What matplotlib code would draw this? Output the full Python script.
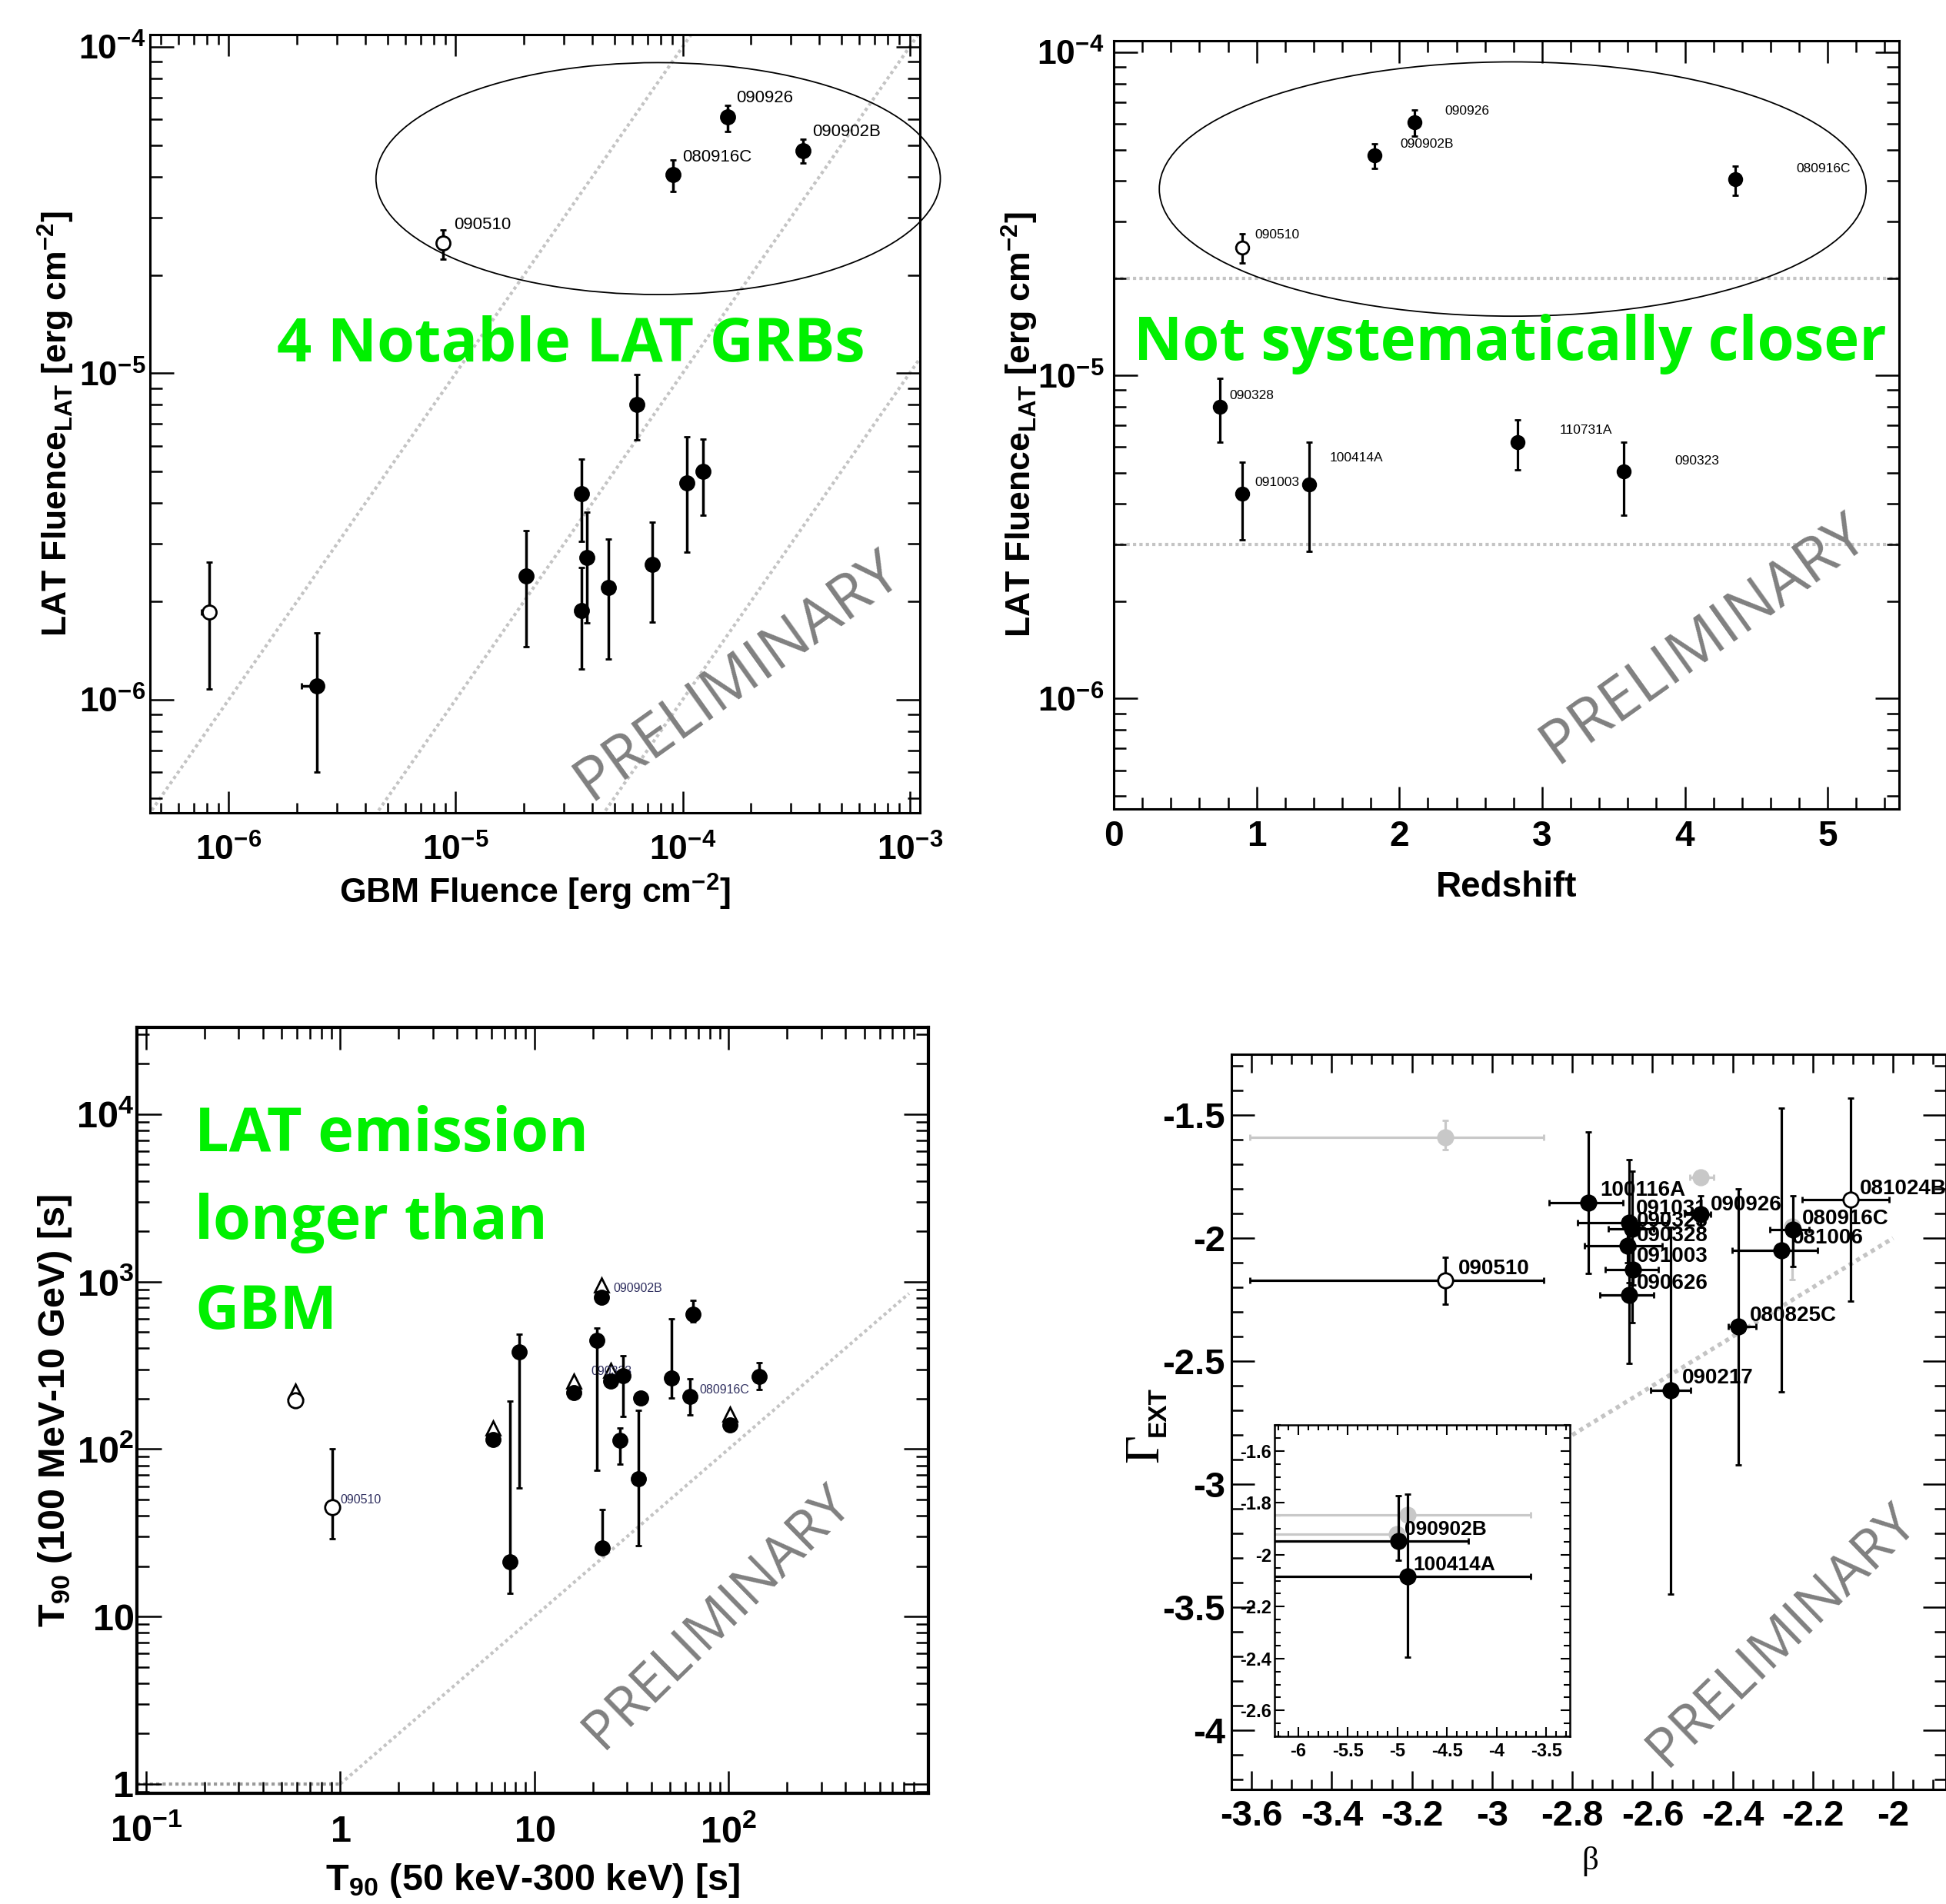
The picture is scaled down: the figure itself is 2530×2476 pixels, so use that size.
"""Four-panel LAT/GBM GRB summary (fluence, redshift, T90, beta vs Gamma_EXT)."""
import matplotlib

matplotlib.use("Agg")
import matplotlib.pyplot as plt
import numpy as np
from matplotlib.patches import Ellipse
from matplotlib.ticker import LogLocator, MultipleLocator, NullFormatter

W, H, DPI = 2530, 2476, 100

plt.rcParams["font.family"] = ["Liberation Sans", "DejaVu Sans"]
plt.rcParams["mathtext.fontset"] = "custom"
plt.rcParams["mathtext.rm"] = "Liberation Serif"
plt.rcParams["mathtext.bf"] = "Liberation Sans:bold"
plt.rcParams["axes.unicode_minus"] = False

GREEN = "#00f000"
GREY_TXT = "#808080"
GREY_LINE = "#c4c4c4"
GREY_PT = "#c8c8c8"

# ---- panel 1: LAT fluence vs GBM fluence
FL_NAME = ["090510", "", "080916C", "090926", "090902B", "", "", "", "", "", "", "", "", "", ""]
FL_GBM = [8.8e-6, 8.2e-7, 9.1e-5, 1.58e-4, 3.4e-4, 2.45e-6, 2.05e-5, 3.57e-5, 3.77e-5,
          3.57e-5, 4.72e-5, 6.3e-5, 7.33e-5, 1.04e-4, 1.23e-4]
FL_GBM_LO = [8.8e-6, 7.6e-7, 9.1e-5, 1.58e-4, 3.4e-4, 2.1e-6, 2.05e-5, 3.57e-5, 3.77e-5,
             3.57e-5, 4.72e-5, 6.3e-5, 7.33e-5, 1.04e-4, 1.23e-4]
FL_LAT = [2.5e-5, 1.85e-6, 4.06e-5, 6.1e-5, 4.8e-5, 1.1e-6, 2.39e-6, 4.28e-6, 2.72e-6,
          1.87e-6, 2.2e-6, 8.0e-6, 2.6e-6, 4.6e-6, 5.0e-6]
FL_LAT_HI = [2.75e-5, 2.64e-6, 4.5e-5, 6.6e-5, 5.2e-5, 1.6e-6, 3.3e-6, 5.46e-6, 3.75e-6,
             2.54e-6, 3.1e-6, 9.9e-6, 3.5e-6, 6.4e-6, 6.3e-6]
FL_LAT_LO = [2.24e-5, 1.08e-6, 3.6e-5, 5.5e-5, 4.4e-5, 6.0e-7, 1.45e-6, 3.06e-6, 1.72e-6,
             1.24e-6, 1.33e-6, 6.25e-6, 1.73e-6, 2.83e-6, 3.68e-6]
FL_OPEN = [True, True] + [False] * 13
FL_LBL_X = [9.8e-6, None, 1.0e-4, 1.72e-4, 3.73e-4]
FL_LBL_Y = [2.85e-5, None, 4.6e-5, 6.97e-5, 5.5e-5]
FL_RATIOS = [1.0, 0.1, 0.01]

# ---- panel 2: LAT fluence vs redshift
RS_NAME = ["090510", "090902B", "090926", "080916C", "090328", "091003", "100414A",
           "110731A", "090323"]
RS_Z = [0.899, 1.824, 2.107, 4.35, 0.742, 0.899, 1.37, 2.827, 3.569]
RS_LAT = [2.49e-5, 4.79e-5, 6.09e-5, 4.05e-5, 8.0e-6, 4.3e-6, 4.6e-6, 6.2e-6, 5.05e-6]
RS_HI = [2.74e-5, 5.21e-5, 6.62e-5, 4.44e-5, 9.8e-6, 5.4e-6, 6.2e-6, 7.3e-6, 6.2e-6]
RS_LO = [2.23e-5, 4.37e-5, 5.5e-5, 3.6e-5, 6.2e-6, 3.1e-6, 2.85e-6, 5.1e-6, 3.7e-6]
RS_OPEN = [True] + [False] * 8
RS_LBL_Z = [0.99, 2.007, 2.317, 4.78, 0.81, 0.986, 1.51, 3.12, 3.927]
RS_LBL_F = [2.72e-5, 5.21e-5, 6.59e-5, 4.36e-5, 8.65e-6, 4.67e-6, 5.56e-6, 6.76e-6, 5.44e-6]
RS_BANDS = [2e-5, 3e-6]

# ---- panel 3: T90 LAT vs T90 GBM
T_GBM = [6.1, 7.48, 8.34, 15.9, 21.0, 22.1, 22.3, 24.8, 28.5, 27.5, 35.2, 34.2, 50.7,
         65.8, 63.4, 101.9, 143.3]
T_LAT = [113.8, 21.2, 381, 217, 445, 806, 25.8, 254.7, 273.6, 113, 202.4, 66.5, 265,
         637, 205.6, 138.7, 271]
T_LO = [113.8, 13.7, 58.7, 217, 75, 806, 25.8, 254.7, 157, 81.5, 202.4, 26.6, 202,
        575, 160, 138.7, 226]
T_HI = [113.8, 194, 488, 217, 530, 806, 43.5, 254.7, 361, 133, 202.4, 170, 597,
        775, 263, 138.7, 329]
T_OPEN_X = [0.586, 0.906]
T_OPEN_Y = [194.5, 45.2]
T_OPEN_LO = [194.5, 29.2]
T_OPEN_HI = [194.5, 100]
T_TRI_X = [0.586, 6.1, 15.9, 22.1, 24.8, 101.9]
T_TRI_Y = [223, 133, 256, 960, 294, 162]
T_LBL = ["090510", "090902B", "090323", "080916C"]
T_LBL_X = [1.0, 25.6, 19.5, 70.8]
T_LBL_Y = [49.7, 908, 290, 226]

# ---- panel 4: Gamma_EXT vs beta
B_NAME = ["", "090510", "", "", "100116A", "091031", "090323", "090328", "091003",
          "090626", "090926", "090217", "080825C", "081006", "080916C", "081024B"]
B_KIND = ["grey", "open", "grey", "grey", "fill", "fill", "fill", "fill", "fill",
          "fill", "fill", "fill", "fill", "fill", "fill", "open"]
B_BETA = [-3.117, -3.117, -2.480, -2.251, -2.760, -2.658, -2.651, -2.662, -2.648,
          -2.658, -2.480, -2.554, -2.386, -2.279, -2.249, -2.106]
B_BLO = [-3.604, -3.604, -2.507, -2.251, -2.857, -2.787, -2.711, -2.770, -2.718,
         -2.731, -2.521, -2.604, -2.411, -2.401, -2.307, -2.227]
B_BHI = [-2.871, -2.871, -2.448, -2.251, -2.673, -2.563, -2.597, -2.576, -2.586,
         -2.597, -2.455, -2.505, -2.341, -2.189, -2.210, -2.009]
B_GAM = [-1.589, -2.173, -1.753, -1.952, -1.856, -1.938, -1.962, -2.032, -2.128,
         -2.231, -1.903, -2.618, -2.360, -2.049, -1.966, -1.845]
B_GLO = [-1.641, -2.267, -1.770, -2.170, -2.145, -2.203, -2.344, -2.100, -2.190,
         -2.508, -1.957, -3.446, -2.923, -2.625, -2.114, -2.257]
B_GHI = [-1.523, -2.079, -1.736, -1.952, -1.570, -1.680, -1.727, -1.970, -2.040,
         -2.180, -1.828, -1.957, -1.800, -1.472, -1.828, -1.430]
B_LBL_X = [None, -3.085, None, None, -2.731, -2.642, -2.640, -2.640, -2.640, -2.640,
           -2.455, -2.527, -2.358, -2.251, -2.227, -2.084]
B_LBL_Y = [None, -2.124, None, None, -1.805, -1.880, -1.930, -1.990, -2.075, -2.185,
           -1.866, -2.567, -2.316, -2.000, -1.922, -1.800]

IN_NAME = ["", "", "090902B", "100414A"]
IN_KIND = ["grey", "grey", "fill", "fill"]
IN_BETA = [-4.899, -5.005, -4.994, -4.899]
IN_BLO = [-6.4, -6.4, -6.4, -6.4]
IN_BHI = [-3.654, -5.005, -4.285, -3.654]
IN_GAM = [-1.846, -1.921, -1.946, -2.084]
IN_GLO = [-1.846, -1.921, -2.021, -2.396]
IN_GHI = [-1.846, -1.921, -1.772, -1.768]
IN_LBL_X = [None, None, -4.927, -4.84]
IN_LBL_Y = [None, None, -1.902, -2.04]


def px_axes(fig, l, t, r, b):
    return fig.add_axes([l / W, 1 - b / H, (r - l) / W, (b - t) / H])


def root_style(ax, xmaj, xmin, ymaj, ymin, lw=2.2):
    for s in ax.spines.values():
        s.set_linewidth(lw)
    ax.tick_params(which="both", direction="in", top=True, right=True, width=1.8)
    ax.tick_params(axis="x", which="major", length=xmaj)
    ax.tick_params(axis="x", which="minor", length=xmin)
    ax.tick_params(axis="y", which="major", length=ymaj)
    ax.tick_params(axis="y", which="minor", length=ymin)


def fig_text(x, y, s, **kw):
    fig.text(x / W, 1 - y / H, s, **kw)


def sci(e):
    return r"$\mathbf{10^{%d}}$" % e


def errs(v, lo, hi):
    v, lo, hi = map(np.asarray, (v, lo, hi))
    return np.vstack([v - lo, hi - v])


fig = plt.figure(figsize=(W / DPI, H / DPI), dpi=DPI)

# ================= panel 1 =================
ax1 = px_axes(fig, 195, 45, 1196, 1057)
ax1.set_xscale("log")
ax1.set_yscale("log")
ax1.set_xlim(4.5e-7, 1.11e-3)
ax1.set_ylim(4.5e-7, 1.09e-4)
gx = np.array([1e-7, 1e-2])
for r in FL_RATIOS:
    ax1.plot(gx, r * gx, color=GREY_LINE, lw=3, ls=(0, (1, 1)), zorder=1)
for i in range(len(FL_GBM)):
    ax1.errorbar(FL_GBM[i], FL_LAT[i],
                 yerr=[[FL_LAT[i] - FL_LAT_LO[i]], [FL_LAT_HI[i] - FL_LAT[i]]],
                 xerr=[[FL_GBM[i] - FL_GBM_LO[i]], [0]],
                 fmt="o", ms=13, mfc="white" if FL_OPEN[i] else "black", mec="black",
                 mew=2, ecolor="black", elinewidth=2.5, capsize=3, capthick=2, zorder=3)
for i, n in enumerate(FL_NAME[:5]):
    if n:
        ax1.text(FL_LBL_X[i], FL_LBL_Y[i], n, fontsize=16, ha="left", va="center")
ax1.add_patch(Ellipse((0.660, 0.815), 0.733, 0.298, transform=ax1.transAxes,
                      fill=False, lw=1.3, color="black", clip_on=False))
ax1.set_xticks([1e-6, 1e-5, 1e-4, 1e-3], [sci(e) for e in (-6, -5, -4, -3)])
ax1.set_yticks([1e-6, 1e-5, 1e-4], [sci(e) for e in (-6, -5, -4)])
for a in (ax1.xaxis, ax1.yaxis):
    a.set_minor_locator(LogLocator(base=10, subs=np.arange(2, 10)))
    a.set_minor_formatter(NullFormatter())
root_style(ax1, 20, 9.5, 22, 11.5)
ax1.tick_params(axis="x", labelsize=32, pad=20)
ax1.tick_params(axis="y", labelsize=32, pad=4)
ax1.set_xlabel(r"GBM Fluence [erg cm$^{\mathbf{-2}}$]", fontsize=32, fontweight="bold",
               labelpad=4)
ax1.set_ylabel(r"LAT Fluence$_{\mathbf{LAT}}$ [erg cm$^{\mathbf{-2}}$]", fontsize=32,
               fontweight="bold", labelpad=2)

# ================= panel 2 =================
ax2 = px_axes(fig, 1448, 53, 2469, 1052)
ax2.set_yscale("log")
ax2.set_xlim(0, 5.5)
ax2.set_ylim(4.55e-7, 1.086e-4)
for yb in RS_BANDS:
    ax2.axhline(yb, color=GREY_LINE, lw=3, ls=(0, (1, 1)), zorder=1)
for i in range(len(RS_Z)):
    ax2.errorbar(RS_Z[i], RS_LAT[i],
                 yerr=[[RS_LAT[i] - RS_LO[i]], [RS_HI[i] - RS_LAT[i]]],
                 fmt="o", ms=12, mfc="white" if RS_OPEN[i] else "black", mec="black",
                 mew=2, ecolor="black", elinewidth=2.3, capsize=3, capthick=2, zorder=3)
    ax2.text(RS_LBL_Z[i], RS_LBL_F[i], RS_NAME[i], fontsize=12.5, ha="left", va="center",
             zorder=2)
ax2.add_patch(Ellipse((0.508, 0.807), 0.900, 0.331, transform=ax2.transAxes,
                      fill=False, lw=1.3, color="black", clip_on=False))
ax2.set_xticks(range(6), [str(v) for v in range(6)], fontweight="bold")
ax2.xaxis.set_minor_locator(MultipleLocator(0.2))
ax2.set_yticks([1e-6, 1e-5, 1e-4], [sci(e) for e in (-6, -5, -4)])
ax2.yaxis.set_minor_locator(LogLocator(base=10, subs=np.arange(2, 10)))
ax2.yaxis.set_minor_formatter(NullFormatter())
root_style(ax2, 21, 10.5, 22, 11.5)
ax2.tick_params(axis="x", labelsize=33, pad=10)
ax2.tick_params(axis="y", labelsize=32, pad=9)
ax2.set_xlabel("Redshift", fontsize=33, fontweight="bold", labelpad=16)
ax2.set_ylabel(r"LAT Fluence$_{\mathbf{LAT}}$ [erg cm$^{\mathbf{-2}}$]", fontsize=32,
               fontweight="bold", labelpad=-3)

# ================= panel 3 =================
ax3 = px_axes(fig, 178, 1336, 1207, 2332)
ax3.set_xscale("log")
ax3.set_yscale("log")
ax3.set_xlim(0.0896, 1070)
ax3.set_ylim(0.88, 3.3e4)
ax3.plot([1, 850], [1, 850], color=GREY_LINE, lw=3, ls=(0, (1, 1)), zorder=1)
ax3.plot([0.0896, 1], [1.0, 1.0], color="#9a9a9a", lw=3, ls=(0, (1, 1)), zorder=1)
ax3.errorbar(T_GBM, T_LAT, yerr=errs(T_LAT, T_LO, T_HI), fmt="o", ms=14, mfc="black",
             mec="black", ecolor="black", elinewidth=2.5, capsize=3, capthick=2, zorder=3)
ax3.errorbar(T_OPEN_X, T_OPEN_Y, yerr=errs(T_OPEN_Y, T_OPEN_LO, T_OPEN_HI), fmt="o",
             ms=14, mfc="white", mec="black", mew=2, ecolor="black", elinewidth=2.5,
             capsize=3, capthick=2, zorder=3)
ax3.plot(T_TRI_X, T_TRI_Y, ls="none", marker="^", ms=13, mfc="white", mec="black",
         mew=2, zorder=2)
for n, x, y in zip(T_LBL, T_LBL_X, T_LBL_Y):
    ax3.text(x, y, n, fontsize=11.5, color="#303060", ha="left", va="center", zorder=2)
ax3.set_xticks([0.1, 1, 10, 100], [sci(-1), r"$\mathbf{1}$", r"$\mathbf{10}$", sci(2)])
ax3.set_yticks([1, 10, 100, 1e3, 1e4],
               [r"$\mathbf{1}$", r"$\mathbf{10}$", sci(2), sci(3), sci(4)])
for a in (ax3.xaxis, ax3.yaxis):
    a.set_minor_locator(LogLocator(base=10, subs=np.arange(2, 10)))
    a.set_minor_formatter(NullFormatter())
root_style(ax3, 21, 10.5, 23, 11.5, lw=3)
ax3.tick_params(axis="x", labelsize=35, pad=20)
ax3.tick_params(axis="y", labelsize=35, pad=3)
ax3.set_xlabel(r"$\mathbf{T_{90}}$ (50 keV-300 keV) [s]", fontsize=35, fontweight="bold",
               labelpad=11)
ax3.set_ylabel(r"$\mathbf{T_{90}}$ (100 MeV-10 GeV) [s]", fontsize=35, fontweight="bold",
               labelpad=2)

# ================= panel 4 =================
ax4 = px_axes(fig, 1601, 1371, 2530, 2327)
ax4.set_xlim(-3.65, -1.868)
ax4.set_ylim(-4.24, -1.253)
ax4.plot([-2.8, -2.0], [-2.8, -2.0], color=GREY_LINE, lw=4, ls=(0, (1, 1)), zorder=1)


def beta_points(ax, kind, beta, blo, bhi, gam, glo, ghi, ms):
    for i in range(len(beta)):
        if kind[i] == "grey":
            col, face, z = GREY_PT, GREY_PT, 2
        else:
            col, face, z = "black", ("white" if kind[i] == "open" else "black"), 3
        ax.errorbar(beta[i], gam[i], xerr=[[beta[i] - blo[i]], [bhi[i] - beta[i]]],
                    yerr=[[gam[i] - glo[i]], [ghi[i] - gam[i]]], fmt="o", ms=ms,
                    mfc=face, mec=col, mew=2, ecolor=col, elinewidth=2.3, capsize=3,
                    capthick=2, zorder=z)


beta_points(ax4, B_KIND, B_BETA, B_BLO, B_BHI, B_GAM, B_GLO, B_GHI, 14)
for i, n in enumerate(B_NAME):
    if n:
        ax4.text(B_LBL_X[i], B_LBL_Y[i], n, fontsize=20, fontweight="bold", ha="left",
                 va="center", zorder=4)
ax4.set_xticks(np.arange(-3.6, -1.99, 0.2),
               ["-3.6", "-3.4", "-3.2", "-3", "-2.8", "-2.6", "-2.4", "-2.2", "-2"],
               fontweight="bold")
ax4.xaxis.set_minor_locator(MultipleLocator(0.05))
ax4.set_yticks(np.arange(-4.0, -1.49, 0.5), ["-4", "-3.5", "-3", "-2.5", "-2", "-1.5"],
               fontweight="bold")
ax4.yaxis.set_minor_locator(MultipleLocator(0.1))
root_style(ax4, 17, 9.5, 21.5, 11)
ax4.tick_params(axis="x", labelsize=34, pad=9)
ax4.tick_params(axis="y", labelsize=34, pad=6)
fig_text(1490, 1883, "Γ", fontsize=46, family="Liberation Serif", rotation=90,
         ha="center", va="center")
fig_text(1506, 1836, "EXT", fontsize=24, fontweight="bold", rotation=90,
         ha="center", va="center")
fig_text(2067, 2421, "β", fontsize=31, family="Liberation Serif", ha="center",
         va="center")

# inset
axi = px_axes(fig, 1657, 1853, 2041, 2258)
axi.set_facecolor("white")
axi.set_zorder(5)
axi.set_xlim(-6.24, -3.26)
axi.set_ylim(-2.70, -1.50)
beta_points(axi, IN_KIND, IN_BETA, IN_BLO, IN_BHI, IN_GAM, IN_GLO, IN_GHI, 14)
for i, n in enumerate(IN_NAME):
    if n:
        axi.text(IN_LBL_X[i], IN_LBL_Y[i], n, fontsize=19, fontweight="bold", ha="left",
                 va="center", zorder=4)
axi.set_xticks([-6, -5.5, -5, -4.5, -4, -3.5], ["-6", "-5.5", "-5", "-4.5", "-4", "-3.5"],
               fontweight="bold")
axi.xaxis.set_minor_locator(MultipleLocator(0.1))
axi.set_yticks([-2.6, -2.4, -2.2, -2.0, -1.8, -1.6],
               ["-2.6", "-2.4", "-2.2", "-2", "-1.8", "-1.6"], fontweight="bold")
axi.yaxis.set_minor_locator(MultipleLocator(0.05))
root_style(axi, 9, 5, 9, 5.5, lw=1.8)
axi.tick_params(which="both", width=1.5)
axi.tick_params(axis="x", labelsize=17, pad=6)
axi.tick_params(axis="y", labelsize=17, pad=3)

# ================= overlays =================
fig_text(742, 470, "4 Notable LAT GRBs", fontsize=57, fontweight="bold",
         family="Open Sans", color=GREEN, ha="center", va="baseline")
fig_text(1963, 468, "Not systematically closer", fontsize=56, fontweight="bold",
         family="Open Sans", color=GREEN, ha="center", va="baseline")
for txt, yb in (("LAT emission", 1497), ("longer than", 1611), ("GBM", 1728)):
    fig_text(253, yb, txt, fontsize=57, fontweight="bold", family="Open Sans",
             color=GREEN, ha="left", va="baseline")

for cx, cy, rot, fs in ((959, 880, 35.5, 57), (2215, 832, 35.5, 57),
                        (933, 2103, 44.4, 52), (2317, 2127, 44.1, 52)):
    fig_text(cx, cy, "PRELIMINARY", fontsize=fs, family="Open Sans", color=GREY_TXT,
             rotation=rot, rotation_mode="anchor", ha="center", va="center", zorder=10)

fig.savefig("out.png", dpi=DPI)
